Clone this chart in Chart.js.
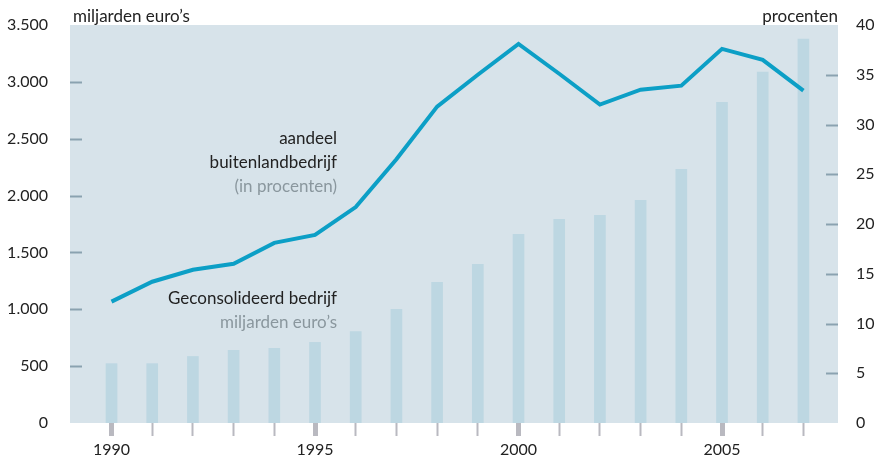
<!DOCTYPE html>
<html>
<head>
<meta charset="utf-8">
<script src="https://cdn.jsdelivr.net/npm/chart.js@4/dist/chart.umd.min.js"></script>
<style>
  html, body { margin: 0; padding: 0; background: #fff; }
  #wrap { width: 882px; height: 459px; position: relative; }
</style>
</head>
<body>
<div id="wrap"><canvas id="chart" width="882" height="459"></canvas></div>
<script>
// Data
const years = [1990, 1991, 1992, 1993, 1994, 1995, 1996, 1997, 1998, 1999, 2000, 2001, 2002, 2003, 2004, 2005, 2006, 2007];
const geconsolideerd = [522, 522, 585, 638, 656, 709, 805, 999, 1237, 1395, 1659, 1791, 1827, 1959, 2231, 2821, 3085, 3376];
const aandeelBuitenland = [12.2, 14.2, 15.4, 16.0, 18.1, 18.9, 21.7, 26.5, 31.8, 35.0, 38.1, 35.1, 32.0, 33.5, 33.9, 37.6, 36.5, 33.4];
const leftTicks = [500, 1000, 1500, 2000, 2500, 3000];
const rightTicks = [5, 10, 15, 20, 25, 30, 35];

const FONT = "Lato, 'Open Sans', 'DejaVu Sans', sans-serif";
const plotBg = '#d7e3ea';
const barColor = '#bdd7e2';
const lineColor = '#0c9fc6';
const tickMarkColor = '#8aa2b0';

const fmt = v => String(v).replace(/\B(?=(\d{3})+(?!\d))/g, '.');

// Plot background, inner tick marks and text labels
const decor = {
    id: 'decor',
    beforeDatasetsDraw(chart) {
        const a = chart.chartArea;
        const ctx = chart.ctx;
        ctx.save();
        ctx.fillStyle = plotBg;
        ctx.fillRect(a.left, a.top, a.right - a.left, a.bottom - a.top);

        ctx.strokeStyle = tickMarkColor;
        ctx.lineWidth = 2;
        leftTicks.forEach(v => {
            const y = Math.round(chart.scales.y.getPixelForValue(v)) + 0.5;
            ctx.beginPath(); ctx.moveTo(a.left, y); ctx.lineTo(a.left + 12, y); ctx.stroke();
        });
        rightTicks.forEach(v => {
            const y = Math.round(chart.scales.y2.getPixelForValue(v)) + 0.5;
            ctx.beginPath(); ctx.moveTo(a.right - 12, y); ctx.lineTo(a.right, y); ctx.stroke();
        });
        ctx.restore();
    },
    afterDraw(chart) {
        const ctx = chart.ctx;
        const a = chart.chartArea;
        ctx.save();
        ctx.textBaseline = 'alphabetic';
        ctx.font = '17px ' + FONT;
        ctx.fillStyle = '#222';
        ctx.textAlign = 'left';
        ctx.fillText('miljarden euro\u2019s', a.left + 3, 22);
        ctx.textAlign = 'right';
        ctx.fillText('procenten', a.right, 22);

        ctx.fillText('aandeel', 337, 144);
        ctx.fillText('buitenlandbedrijf', 337, 168);
        ctx.fillText('Geconsolideerd bedrijf', 337, 304);
        ctx.fillStyle = '#8a979e';
        ctx.fillText('(in procenten)', 337, 192);
        ctx.fillText('miljarden euro\u2019s', 337, 328);
        ctx.restore();
    }
};

new Chart(document.getElementById('chart'), {
    data: {
        datasets: [
            {
                type: 'line',
                label: 'aandeel buitenlandbedrijf',
                data: years.map((y, i) => ({ x: y, y: aandeelBuitenland[i] })),
                yAxisID: 'y2',
                borderColor: lineColor,
                borderWidth: 4,
                pointRadius: 0,
                tension: 0,
                borderJoinStyle: 'miter',
                order: 0
            },
            {
                type: 'bar',
                label: 'Geconsolideerd bedrijf',
                data: years.map((y, i) => ({ x: y, y: geconsolideerd[i] })),
                yAxisID: 'y',
                backgroundColor: barColor,
                barThickness: 11,
                order: 1
            }
        ]
    },
    options: {
        responsive: false,
        animation: false,
        layout: { padding: { top: 25, left: 0, right: 0, bottom: 0 } },
        plugins: { legend: { display: false }, tooltip: { enabled: false } },
        scales: {
            x: {
                type: 'linear',
                min: 1988.98,
                max: 2007.85,
                offset: false,
                afterBuildTicks: s => { s.ticks = years.map(v => ({ value: v })); },
                afterFit: s => { s.height = 36; },
                border: { display: false },
                grid: {
                    offset: false,
                    drawOnChartArea: false,
                    drawTicks: true,
                    tickLength: 13,
                    tickColor: '#b9b9c0',
                    tickWidth: c => (c.tick && c.tick.value % 5 === 0 ? 5 : 2)
                },
                ticks: {
                    autoSkip: false,
                    maxRotation: 0,
                    padding: 4,
                    color: '#222',
                    font: { family: FONT, size: 16 },
                    callback: v => (v % 5 === 0 ? String(v) : '')
                }
            },
            y: {
                position: 'left',
                min: 0,
                max: 3500,
                afterBuildTicks: s => { s.ticks = [0, 500, 1000, 1500, 2000, 2500, 3000, 3500].map(v => ({ value: v })); },
                afterFit: s => { s.width = 70; },
                border: { display: false },
                grid: { display: false },
                ticks: {
                    padding: 14,
                    color: '#222',
                    font: { family: FONT, size: 16 },
                    callback: v => fmt(v)
                }
            },
            y2: {
                position: 'right',
                min: 0,
                max: 40,
                afterBuildTicks: s => { s.ticks = [0, 5, 10, 15, 20, 25, 30, 35, 40].map(v => ({ value: v })); },
                afterFit: s => { s.width = 44; },
                border: { display: false },
                grid: { display: false },
                ticks: {
                    padding: 10,
                    color: '#222',
                    font: { family: FONT, size: 16 }
                }
            }
        }
    },
    plugins: [decor]
});
</script>
</body>
</html>
